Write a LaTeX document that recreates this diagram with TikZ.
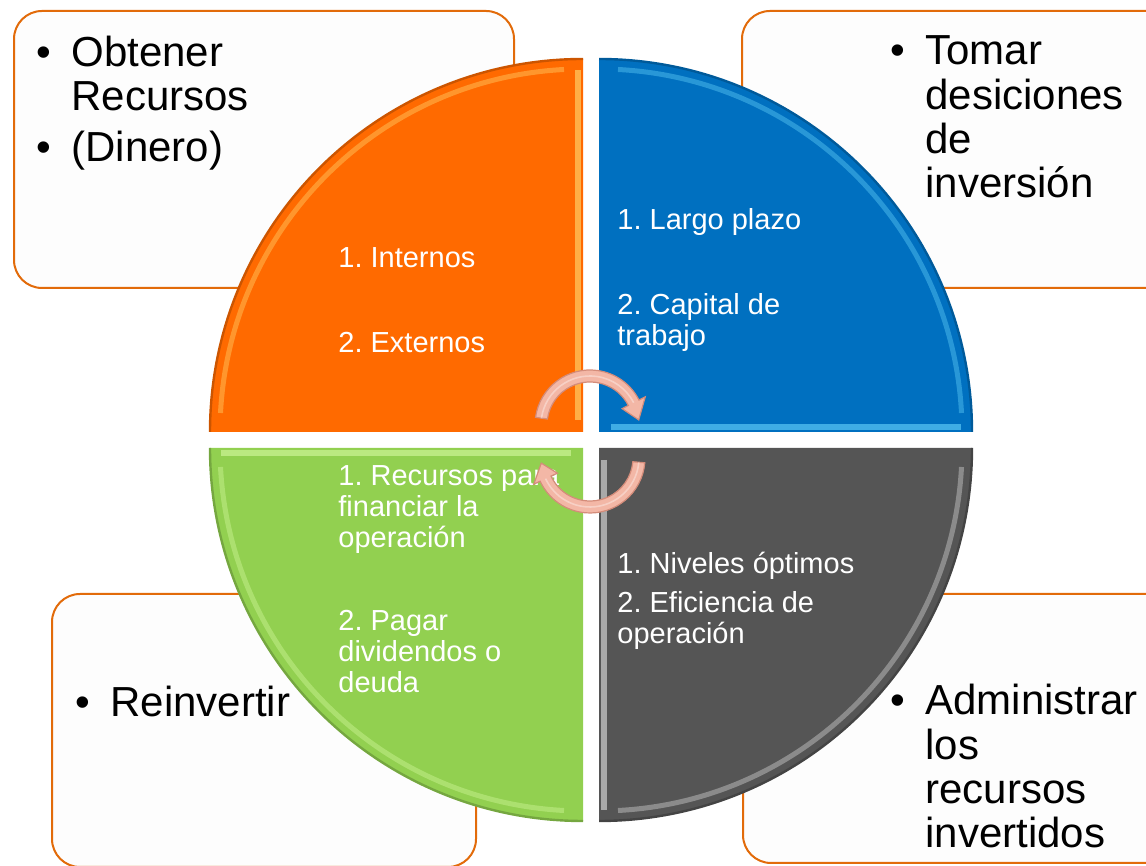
\documentclass[tikz,border=0pt]{standalone}
\usepackage{fontspec}
\setmainfont{Liberation Sans}
\usetikzlibrary{positioning}
\frenchspacing

\definecolor{boxedge}{RGB}{226,107,10}
\definecolor{boxfill}{RGB}{253,253,253}
\definecolor{qorange}{RGB}{255,106,0}
\definecolor{qorangelit}{RGB}{255,205,100}
\definecolor{qblue}{RGB}{0,112,192}
\definecolor{qbluelit}{RGB}{90,200,245}
\definecolor{qgreen}{RGB}{146,208,80}
\definecolor{qgreenlit}{RGB}{205,245,150}
\definecolor{qgray}{RGB}{85,85,85}
\definecolor{qgraylit}{RGB}{205,205,205}
\definecolor{arrowfill}{RGB}{243,183,166}
\definecolor{arrowline}{RGB}{212,140,122}

\newcommand{\bul}{\llap{\textbullet\hspace{10pt}}}

\begin{document}
\begin{tikzpicture}[x=0.5pt,y=0.5pt,
    box/.style={draw=boxedge, line width=1pt, fill=boxfill, rounded corners=14pt},
    big/.style={font=\fontsize{21}{22.2}\selectfont, align=left, anchor=base west, inner sep=0pt},
    small/.style={text=white, font=\fontsize{14.5}{15.5}\selectfont, align=left, anchor=base west, inner sep=0pt},
    turn/.style={fill=arrowfill, draw=arrowline, line width=0.6pt}]
  \useasboundingbox (0,0) rectangle (1146,866);
  \clip (0,0) rectangle (1146,866);

  % corner boxes
  \draw[box] (14,578) rectangle (514,855);
  \draw[box] (742,578) rectangle (1190,855);
  \draw[box] (52,-1) rectangle (476,272);
  \draw[box] (743,3) rectangle (1190,272);

  % the four quarters
  \foreach \cx/\cy/\a/\col in {583/434/90/qorange, 599/434/0/qblue, 583/418/180/qgreen, 599/418/270/qgray} {
    \fill[\col] (\cx,\cy) -- ++(\a:373) arc[start angle=\a, delta angle=90, radius=373] -- cycle;
    \draw[\col!80!black, line width=1.2pt] (\cx,\cy) ++(\a:373) arc[start angle=\a, delta angle=90, radius=373];
    \draw[\col lit, line width=2.5pt, opacity=.45] (\cx,\cy) ++(\a+3:363) arc[start angle=\a+3, delta angle=84, radius=363];
    \draw[\col lit, line width=3pt, opacity=.7] (\cx,\cy) ++(\a+90:5) ++(\a:12) -- ++(\a:350);
  }

  % box texts (anchored at the last line)
  \node[big] (obtener) at (71,704) {\bul Obtener\\Recursos\\[3.5pt]\bul (Dinero)};
  \node[big] (tomar) at (925,668) {\bul Tomar\\desiciones\\de\\inversión};
  \node[big] (reinvertir) at (110,149) {\bul Reinvertir};
  \node[big] (administrar) at (925,18) {\bul Administrar\\los\\recursos\\invertidos};

  % quarter texts
  \node[small] (internos) at (338,598) {1. Internos};
  \node[small] (externos) at (338,513) {2. Externos};
  \node[small] (largo) at (617,636) {1. Largo plazo};
  \node[small] (capital) at (617,520) {2. Capital de\\trabajo};
  \node[small] (financiar) at (338,318) {1. Recursos para\\financiar la\\operación};
  \node[small] (pagar) at (338,173) {2. Pagar\\dividendos o\\deuda};
  \node[small] (niveles) at (617,292) {1. Niveles óptimos};
  \node[small] (eficiencia) at (617,222) {2. Eficiencia de\\operación};

  % turning arrows
  \foreach \cy/\sa/\ea/\ta in {441/172/27/6, 408/-5/-155/-174} {
    \filldraw[turn, shift={(590,\cy)}] (\sa:55) arc[start angle=\sa, end angle=\ea, radius=55]
      -- (\ea:62) -- (\ta:49) -- (\ea:36) -- (\ea:43)
      arc[start angle=\ea, end angle=\sa, radius=43] -- cycle;
    \draw[white, opacity=.35, line width=0.8pt, shift={(590,\cy)}] (\sa:49) arc[start angle=\sa, end angle=\ea, radius=49];
  }
\end{tikzpicture}
\end{document}
